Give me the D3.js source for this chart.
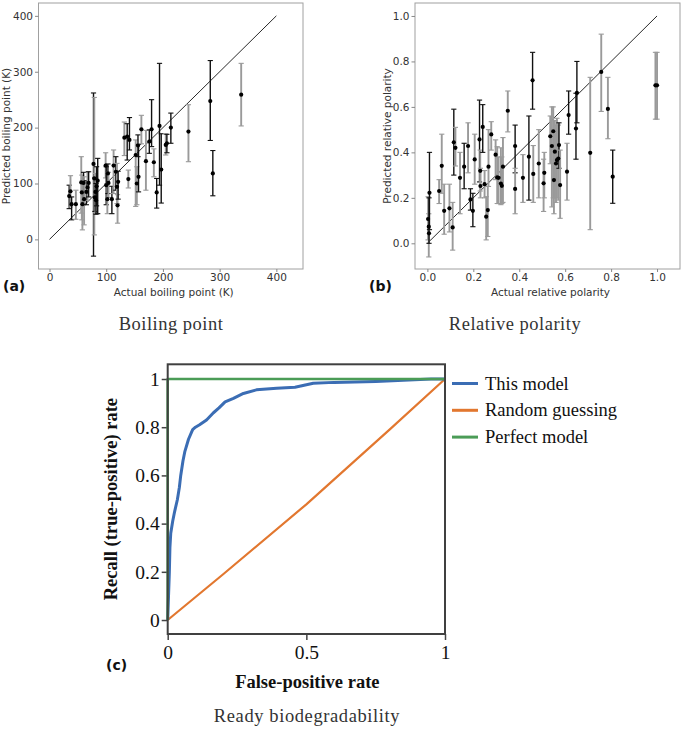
<!DOCTYPE html>
<html><head><meta charset="utf-8">
<script src="https://cdn.jsdelivr.net/npm/d3@7/dist/d3.min.js"></script>
<style>body{margin:0;background:#fff}svg{display:block}</style>
</head><body>
<svg id="chart" width="685" height="731"></svg>
<script>
// ---------- Panel (a): boiling point ----------
const bpActual    = [34.7,37,39,46.5,56,57,58,60,61,65,67,69,77.6,79,80,81,82,83,85,99,100,102,103,104,110,113,117,119,120,121,132,137,141,139,152,154,156,157,162,170,176,180,184,189,194,197,205,207,214,245,283.5,288,338];
const bpPredicted = [77.5,86,63,63,102,84,63,101,72,85,93,101,135,109,75,85,70,95,105,132,97,72,118,101,72,132,121,94,61,103,182,184,178,108,151,100,168,112,197,140,175,197,138,84,203,125,169,172,200,193,247.5,118,259];
const bpLower     = [55,58,35,36,47,35,17,62,26,62,70,76,-30,8,50,48,45,60,46,110,62,46,82,75,46,82,88,64,29,72,150,142,160,92,59,62,148,85,171,88,154,166,112,56,97,65,151,155,172,139,177,78,203];
const bpUpper     = [97,114,76,88,148,115,85,120,112,105,121,121,262,254,110,118,100,130,145,155,130,100,135,120,95,160,148,136,80,122,210,207,218,124,178,130,187,170,222,195,196,250,162,109,315,189,189,188,226,241,320,159,315];
const bpGroup     = ["A","B","A","B","B","B","B","A","B","A","B","A","A","B","A","B","A","A","A","B","A","B","A","B","A","B","A","B","B","A","B","A","A","B","B","B","A","A","B","B","A","A","B","A","A","A","B","A","A","B","A","A","B"];
const bpTicks     = [0,100,200,300,400];

// ---------- Panel (b): relative polarity ----------
const rpActual    = [0.003,0.006,0.009,0.007,0.051,0.0625,0.073,0.096,0.11,0.115,0.122,0.142,0.16,0.177,0.1875,0.198,0.206,0.227,0.23,0.231,0.241,0.249,0.256,0.263,0.266,0.278,0.297,0.304,0.31,0.32,0.324,0.329,0.35,0.382,0.382,0.416,0.442,0.458,0.461,0.485,0.506,0.509,0.535,0.542,0.548,0.551,0.555,0.56,0.564,0.57,0.573,0.578,0.608,0.615,0.647,0.651,0.709,0.757,0.786,0.807,0.993,1.0];
const rpPredicted = [0.107,0.073,0.222,0.044,0.23,0.341,0.143,0.154,0.07,0.444,0.42,0.288,0.337,0.428,0.193,0.143,0.369,0.457,0.319,0.252,0.512,0.26,0.117,0.146,0.337,0.479,0.39,0.29,0.288,0.263,0.253,0.337,0.583,0.428,0.239,0.288,0.381,0.717,0.305,0.351,0.264,0.31,0.471,0.428,0.493,0.278,0.403,0.351,0.366,0.373,0.432,0.256,0.315,0.564,0.505,0.662,0.398,0.754,0.591,0.293,0.695,0.695];
const rpLower     = [0.015,-0.06,0.06,0.0,0.175,0.22,0.04,0.05,-0.03,0.30,0.34,0.13,0.24,0.31,0.146,0.073,0.26,0.27,0.23,0.2,0.40,0.2,0.015,0.03,0.25,0.41,0.28,0.175,0.175,0.17,0.175,0.18,0.49,0.31,0.13,0.18,0.19,0.59,0.18,0.2,0.14,0.2,0.35,0.16,0.2,0.13,0.2,0.18,0.2,0.19,0.33,0.11,0.19,0.48,0.37,0.53,0.06,0.58,0.46,0.176,0.546,0.546];
const rpUpper     = [0.205,0.13,0.40,0.20,0.28,0.48,0.26,0.26,0.18,0.59,0.51,0.40,0.44,0.53,0.24,0.22,0.48,0.63,0.41,0.33,0.61,0.32,0.205,0.25,0.50,0.535,0.455,0.425,0.38,0.42,0.38,0.465,0.67,0.52,0.33,0.39,0.56,0.84,0.43,0.5,0.37,0.40,0.56,0.60,0.6,0.42,0.54,0.52,0.55,0.52,0.53,0.41,0.44,0.67,0.66,0.80,0.73,0.92,0.73,0.41,0.84,0.84];
const rpGroup     = ["B","B","A","A","B","B","B","B","B","A","B","B","A","B","A","A","B","A","B","B","A","B","B","B","B","B","B","B","B","B","B","B","B","A","B","B","A","A","B","B","B","B","B","B","B","B","B","B","B","B","A","B","B","A","A","A","B","B","B","A","B","B"];
const rpTicks     = [0,0.2,0.4,0.6,0.8,1.0];

// ---------- Panel (c): ROC ----------
const rocSeries   = ["This model","Random guessing","Perfect model"];
const modelFPR    = [0,0.003,0.006,0.008,0.011,0.018,0.025,0.035,0.042,0.047,0.055,0.062,0.075,0.09,0.1,0.115,0.14,0.165,0.185,0.207,0.237,0.273,0.32,0.393,0.459,0.525,0.6,0.75,0.85,0.95,1];
const modelTPR    = [0,0.1,0.2,0.3,0.36,0.41,0.45,0.5,0.55,0.6,0.66,0.7,0.75,0.79,0.8,0.81,0.83,0.86,0.88,0.905,0.92,0.94,0.955,0.962,0.966,0.982,0.986,0.99,0.995,1,1];
const randomFPR   = [0,0.2,0.5,0.8,1];
const randomTPR   = [0,0.19,0.48,0.79,1];
const perfectFPR  = [0,0,1];
const perfectTPR  = [0,1,1];
const rocYTicks   = [0,0.2,0.4,0.6,0.8,1];
const rocXTicks   = [0,0.5,1];

const captions = ["Boiling point","Relative polarity","Ready biodegradability"];

const svg = d3.select("#chart");
const SANS = "'DejaVu Sans', sans-serif";
const SERIF = "'Liberation Serif', 'Times New Roman', serif";
const groupColor = d3.scaleOrdinal().domain(["A","B"]).range(["#111","#9a9a9a"]);
const groupWidth = d3.scaleOrdinal().domain(["A","B"]).range([1.4,1.9]);

function scatterPanel(opt){
  const g = svg.append("g");
  const x = d3.scaleLinear().domain(opt.xDom).range([opt.left, opt.right]);
  const y = d3.scaleLinear().domain(opt.yDom).range([opt.bottom, opt.top]);
  g.append("rect").attr("x",opt.left).attr("y",opt.top)
    .attr("width",opt.right-opt.left).attr("height",opt.bottom-opt.top)
    .attr("fill","none").attr("stroke","#a0a0a0").attr("stroke-width",1);
  const ax = g.append("g").attr("transform",`translate(0,${opt.bottom})`)
    .call(d3.axisBottom(x).tickValues(opt.ticks).tickFormat(opt.fmt).tickSize(3).tickPadding(1.5));
  const ay = g.append("g").attr("transform",`translate(${opt.left},0)`)
    .call(d3.axisLeft(y).tickValues(opt.ticks).tickFormat(opt.fmt).tickSize(3.5).tickPadding(2));
  [ax,ay].forEach(a=>{
    a.select(".domain").remove();
    a.selectAll("line").attr("stroke","#888");
    a.selectAll("text").attr("font-family",SANS).attr("font-size",10.5).attr("fill","#333");
  });
  const ext = opt.ticks[opt.ticks.length-1];
  g.append("line").attr("x1",x(0)).attr("y1",y(0)).attr("x2",x(ext)).attr("y2",y(ext))
    .attr("stroke","#111").attr("stroke-width",0.9);
  const data = opt.xs.map((v,i)=>({x:v,y:opt.ys[i],lo:opt.lo[i],hi:opt.hi[i],g:opt.grp[i]}));
  const eb = g.append("g").selectAll("g").data(data).join("g")
    .attr("stroke",d=>groupColor(d.g)).attr("stroke-width",d=>groupWidth(d.g));
  eb.append("line").attr("x1",d=>x(d.x)).attr("x2",d=>x(d.x)).attr("y1",d=>y(d.lo)).attr("y2",d=>y(d.hi));
  eb.append("line").attr("x1",d=>x(d.x)-2.6).attr("x2",d=>x(d.x)+2.6).attr("y1",d=>y(d.lo)).attr("y2",d=>y(d.lo)).attr("stroke-width",1.1);
  eb.append("line").attr("x1",d=>x(d.x)-2.6).attr("x2",d=>x(d.x)+2.6).attr("y1",d=>y(d.hi)).attr("y2",d=>y(d.hi)).attr("stroke-width",1.1);
  g.append("g").selectAll("circle").data(data).join("circle")
    .attr("cx",d=>x(d.x)).attr("cy",d=>y(d.y)).attr("r",2.1).attr("fill","#000");
  g.append("text").attr("x",(opt.left+opt.right)/2+3).attr("y",295.5)
    .attr("text-anchor","middle").attr("font-family",SANS).attr("font-size",10.5).attr("fill","#333")
    .text(opt.xlabel);
  g.append("text").attr("transform",`translate(${opt.ylabX},${(opt.top+opt.bottom)/2})rotate(-90)`)
    .attr("text-anchor","middle").attr("font-family",SANS).attr("font-size",10.5).attr("fill","#333")
    .text(opt.ylabel);
  g.append("text").attr("x",opt.tagX).attr("y",291).attr("font-family",SANS).attr("font-weight","bold")
    .attr("font-size",14).attr("fill","#111").text(opt.tag);
  g.append("text").attr("x",opt.capX).attr("y",330).attr("text-anchor","middle")
    .attr("font-family",SERIF).attr("font-size",18.5).attr("letter-spacing",0.5).attr("fill","#333").text(opt.caption);
}

scatterPanel({left:38.5,right:303,top:3,bottom:269,xDom:[-19.4,447],yDom:[-53,423],
  ticks:bpTicks,fmt:d3.format("d"),xs:bpActual,ys:bpPredicted,lo:bpLower,hi:bpUpper,grp:bpGroup,
  xlabel:"Actual boiling point (K)",ylabel:"Predicted boiling point (K)",ylabX:10,
  tag:"(a)",tagX:3,caption:captions[0],capX:171});

scatterPanel({left:415,right:680,top:3,bottom:269,xDom:[-0.054,1.10],yDom:[-0.113,1.057],
  ticks:rpTicks,fmt:d3.format(".1f"),xs:rpActual,ys:rpPredicted,lo:rpLower,hi:rpUpper,grp:rpGroup,
  xlabel:"Actual relative polarity",ylabel:"Predicted relative polarity",ylabX:391,
  tag:"(b)",tagX:369,caption:captions[1],capX:515});

// ---------- Panel (c) ----------
(function(){
  const L=167.7,R=445,T=364.3,B=634;
  const g = svg.append("g");
  const x = d3.scaleLinear().domain([0,1]).range([L,R]);
  const y = d3.scaleLinear().domain([-0.058,1.061]).range([B,T]);
  const color = d3.scaleOrdinal().domain(rocSeries).range(["#3b6db4","#e2772f","#4b9c57"]);
  const width = d3.scaleOrdinal().domain(rocSeries).range([3,2.2,2.6]);
  const ax = g.append("g").attr("transform",`translate(0,${B})`)
    .call(d3.axisBottom(x).tickValues(rocXTicks).tickFormat(d3.format("~g")).tickSize(6).tickPadding(5));
  const ay = g.append("g").attr("transform",`translate(${L},0)`)
    .call(d3.axisLeft(y).tickValues(rocYTicks).tickFormat(d3.format("~g")).tickSize(6).tickPadding(2));
  [ax,ay].forEach(a=>{
    a.select(".domain").remove();
    a.selectAll("line").attr("stroke","#444").attr("stroke-width",1.5);
    a.selectAll("text").attr("font-family",SERIF).attr("font-size",19.5).attr("fill","#111");
  });
  const series = [
    {name:rocSeries[1],xs:randomFPR,ys:randomTPR},
    {name:rocSeries[0],xs:modelFPR,ys:modelTPR},
    {name:rocSeries[2],xs:perfectFPR,ys:perfectTPR}
  ];
  const line = d3.line().x(d=>x(d[0])).y(d=>y(d[1]));
  g.append("g").selectAll("path").data(series).join("path")
    .attr("d",s=>line(s.xs.map((v,i)=>[v,s.ys[i]])))
    .attr("fill","none").attr("stroke",s=>color(s.name)).attr("stroke-width",s=>width(s.name))
    .attr("stroke-linejoin","round");
  g.append("rect").attr("x",L).attr("y",T).attr("width",R-L).attr("height",B-T)
    .attr("fill","none").attr("stroke","#404040").attr("stroke-width",2);
  const lg = g.append("g").selectAll("g").data(rocSeries).join("g")
    .attr("transform",(d,i)=>`translate(452,${383.5+i*26.8})`);
  lg.append("line").attr("x1",0).attr("x2",26).attr("stroke",d=>color(d)).attr("stroke-width",3);
  lg.append("text").attr("x",33).attr("y",6).attr("font-family",SERIF).attr("font-size",18.5)
    .attr("fill","#111").text(d=>d);
  g.append("text").attr("x",(L+R)/2+1).attr("y",688).attr("text-anchor","middle")
    .attr("font-family",SERIF).attr("font-weight","bold").attr("font-size",18.5).attr("fill","#111")
    .text("False-positive rate");
  g.append("text").attr("transform",`translate(117,${(T+B)/2})rotate(-90)`).attr("text-anchor","middle")
    .attr("font-family",SERIF).attr("font-weight","bold").attr("font-size",18.5).attr("fill","#111")
    .text("Recall (true-positive) rate");
  g.append("text").attr("x",106).attr("y",670).attr("font-family",SANS).attr("font-weight","bold")
    .attr("font-size",14).attr("fill","#111").text("(c)");
  g.append("text").attr("x",307).attr("y",722).attr("text-anchor","middle")
    .attr("font-family",SERIF).attr("font-size",18.5).attr("letter-spacing",0.6).attr("fill","#333").text(captions[2]);
})();
</script>
</body></html>
